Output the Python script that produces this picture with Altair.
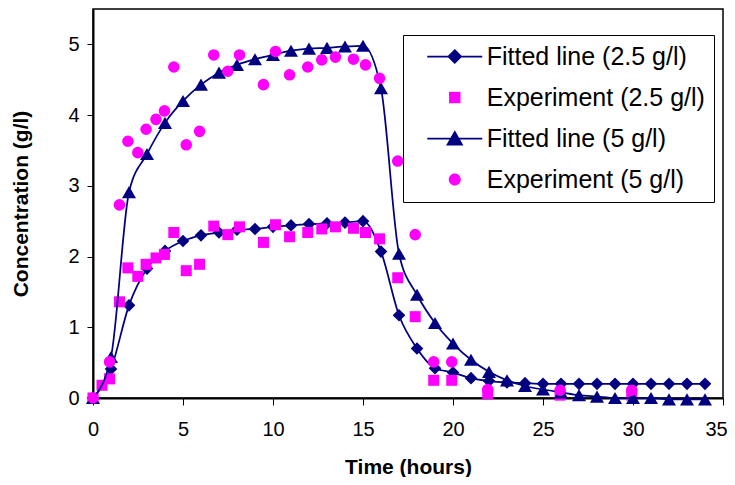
import altair as alt
import pandas as pd

NAVY = "#000080"
MAGENTA = "#FF00FF"
FONT = "Liberation Sans"

names = ["Fitted line (2.5 g/l)", "Experiment (2.5 g/l)",
         "Fitted line (5 g/l)", "Experiment (5 g/l)"]

# fitted curves (hourly)
fit_time = list(range(0, 35))
fit25 = [0.0, 0.41, 1.31, 1.83, 2.08, 2.22, 2.30, 2.34, 2.38, 2.39, 2.42, 2.44,
         2.46, 2.47, 2.48, 2.50, 2.07, 1.17, 0.70, 0.42, 0.36, 0.28, 0.24, 0.22,
         0.21, 0.20, 0.20, 0.20, 0.20, 0.20, 0.20, 0.20, 0.20, 0.20, 0.20]
fit5 = [0.0, 0.58, 2.91, 3.45, 3.89, 4.20, 4.43, 4.60, 4.71, 4.79, 4.85, 4.91,
        4.94, 4.95, 4.97, 4.98, 4.38, 2.04, 1.46, 1.06, 0.77, 0.54, 0.37, 0.25,
        0.17, 0.12, 0.08, 0.04, 0.02, 0.0, 0.0, 0.0, -0.02, -0.02, -0.02]

# experiments
exp_time_25 = [0, 0.5, 0.92, 1.47, 1.94, 2.49, 2.95, 3.5, 3.97, 4.49, 5.18, 5.92,
               6.71, 7.49, 8.14, 9.47, 10.14, 10.92, 11.93, 12.71, 13.47, 14.47,
               15.14, 15.92, 16.93, 17.9, 18.93, 19.93, 21.93, 25.95, 29.93]
exp25 = [0.0, 0.18, 0.27, 1.36, 1.84, 1.72, 1.89, 1.98, 2.03, 2.34, 1.80, 1.89,
         2.43, 2.31, 2.42, 2.20, 2.45, 2.28, 2.34, 2.39, 2.42, 2.40, 2.34, 2.25,
         1.70, 1.15, 0.25, 0.25, 0.06, 0.04, 0.04]
exp_time_5 = [0, 0.92, 1.47, 1.94, 2.49, 2.95, 3.5, 3.97, 4.49, 5.18, 5.92, 6.71,
              7.49, 8.14, 9.47, 10.14, 10.92, 11.93, 12.71, 13.47, 14.47, 15.14,
              15.92, 16.93, 17.9, 18.93, 19.93, 21.93, 25.95, 29.93]
exp5 = [0.0, 0.51, 2.73, 3.63, 3.47, 3.80, 3.94, 4.06, 4.68, 3.58, 3.77, 4.85,
        4.62, 4.85, 4.43, 4.90, 4.57, 4.68, 4.78, 4.82, 4.79, 4.71, 4.52, 3.35,
        2.31, 0.51, 0.51, 0.12, 0.11, 0.11]

x_ticks = [0, 5, 10, 15, 20, 25, 30, 35]
y_ticks = [0, 1, 2, 3, 4, 5]

df_f25 = pd.DataFrame({"t": fit_time, "c": fit25, "series": names[0]})
df_e25 = pd.DataFrame({"t": exp_time_25, "c": exp25, "series": names[1]})
df_f5 = pd.DataFrame({"t": fit_time, "c": fit5, "series": names[2]})
df_e5 = pd.DataFrame({"t": exp_time_5, "c": exp5, "series": names[3]})
df_all = pd.concat([df_f25, df_e25, df_f5, df_e5], ignore_index=True)

x = alt.X("t:Q", scale=alt.Scale(domain=[0, 35], nice=False, zero=False),
          axis=alt.Axis(title="Time (hours)", values=x_ticks, format="d",
                        tickSize=7, labelPadding=14, titlePadding=17,
                        labelFlush=False,
                        labelOffset={"condition": {"test": "datum.value == 35",
                                                   "value": -7},
                                     "value": 0}))
y = alt.Y("c:Q", scale=alt.Scale(domain=[0, 5.5], nice=False),
          axis=alt.Axis(title="Concentration (g/l)", values=y_ticks, format="d",
                        tickSize=6, labelPadding=8, titlePadding=36,
                        labelFlush=False))

def line(df):
    return alt.Chart(df).mark_line(color=NAVY, strokeWidth=1.75,
                                   interpolate="monotone").encode(x=x, y=y)

def pts(df, shape, color, size):
    return alt.Chart(df).mark_point(shape=shape, filled=True, color=color,
                                    size=size, opacity=1).encode(x=x, y=y)

# legend symbols: line with marker for fitted series, marker only for experiments
p_diamond = "M-4.58,0H4.58M0,-1.05L1.05,0L0,1.05L-1.05,0Z"
p_square = "M-0.95,-0.95H0.95V0.95H-0.95Z"
p_triangle = "M-4.58,0H4.58M0,-1.1L1.2,1L-1.2,1Z"
p_circle = "M-1,0A1,1 0 1,0 1,0A1,1 0 1,0 -1,0Z"

leg = alt.Legend(title=None, orient="none", legendX=310, legendY=26,
                 padding=9, strokeColor="#000000", fillColor="#FFFFFF",
                 labelFont=FONT, labelFontSize=25, labelColor="#000000",
                 labelLimit=400, labelOffset=19.5, symbolOffset=30.25,
                 symbolSize=144, symbolStrokeWidth=1.75, rowPadding=15,
                 symbolOpacity=1)

legend_layer = alt.Chart(df_all).mark_point(filled=True, opacity=0).encode(
    x=x, y=y,
    fill=alt.Fill("series:N", sort=names,
                  scale=alt.Scale(domain=names, range=[NAVY, MAGENTA, NAVY, MAGENTA]),
                  legend=leg),
    stroke=alt.Stroke("series:N", sort=names,
                      scale=alt.Scale(domain=names,
                                      range=[NAVY, "transparent", NAVY, "transparent"]),
                      legend=leg),
    shape=alt.Shape("series:N", sort=names,
                    scale=alt.Scale(domain=names,
                                    range=[p_diamond, p_square, p_triangle, p_circle]),
                    legend=leg),
)

chart = alt.layer(
    line(df_f25),
    pts(df_f25, "diamond", NAVY, 160),
    pts(df_e25, "square", MAGENTA, 121),
    line(df_f5),
    pts(df_f5, "triangle-up", NAVY, 196),
    pts(df_e5, "circle", MAGENTA, 135),
    legend_layer,
).properties(
    width=630, height=389,
    padding={"left": 85, "top": 1, "right": 4, "bottom": 79},
    autosize=alt.AutoSizeParams(type="none"),
    background="#FFFFFF",
).configure_view(
    stroke="#000000", strokeWidth=1.5
).configure_axis(
    grid=False, domainColor="#000000", domainWidth=2, tickColor="#000000",
    tickWidth=1, labelColor="#000000", titleColor="#000000",
    labelFont=FONT, titleFont=FONT, labelFontSize=20, titleFontSize=21,
    titleFontWeight="bold", labelFontWeight="normal"
)

chart.save("out.html", embed_options={"renderer": "svg", "actions": False})
